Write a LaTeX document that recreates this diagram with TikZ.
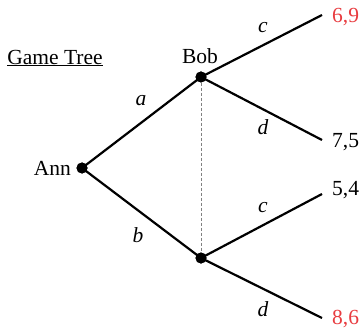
\documentclass[tikz,border=0pt]{standalone}
\usepackage{fontspec}
\setmainfont{Liberation Serif}
\definecolor{payred}{RGB}{232,60,64}
\begin{document}
\begin{tikzpicture}[x=1pt,y=-1pt,
  every node/.style={font=\fontsize{21.5}{25}\selectfont, inner sep=0pt},
  branch/.style={line width=2.2pt},
  dot/.style={circle, fill=black, minimum size=11pt, inner sep=0pt},
  lbl/.style={font=\fontsize{21.5}{25}\selectfont\itshape},
  pay/.style={anchor=west},
  info/.style={gray, line width=0.6pt, dash pattern=on 3.5pt off 1.5pt}]
\useasboundingbox (0,0) rectangle (362,329);
\node[dot] (ann) at (82,168) {};
\node[dot] (bob) at (201,77) {};
\node[dot] (bob2) at (201,258) {};
\coordinate (l1) at (322,15);
\coordinate (l2) at (322,140);
\coordinate (l3) at (322,194);
\coordinate (l4) at (322,318);
\node (gt) at (55,58) {\underline{Game Tree}};
\node[anchor=east] (annl) at (71,168) {Ann};
\node (bobl) at (200,56) {Bob};
\draw[info] (bob) -- (bob2);
\draw[branch] (ann.center) -- (bob.center);
\draw[branch] (ann.center) -- (bob2.center);
\draw[branch] (bob.center) -- (l1);
\draw[branch] (bob.center) -- (l2);
\draw[branch] (bob2.center) -- (l3);
\draw[branch] (bob2.center) -- (l4);
\node[dot] at (ann) {};
\node[dot] at (bob) {};
\node[dot] at (bob2) {};
\node[lbl] (la) at (141,101) {a};
\node[lbl] (lb) at (138,235) {b};
\node[lbl] (lc1) at (263,28) {c};
\node[lbl] (ld1) at (263,127) {d};
\node[lbl] (lc2) at (263,208) {c};
\node[lbl] (ld2) at (263,309) {d};
\node[pay, text=payred] (p1) at (332,17) {6,9};
\node[pay] (p2) at (332,142) {7,5};
\node[pay] (p3) at (332,190) {5,4};
\node[pay, text=payred] (p4) at (332,319) {8,6};
\end{tikzpicture}
\end{document}
